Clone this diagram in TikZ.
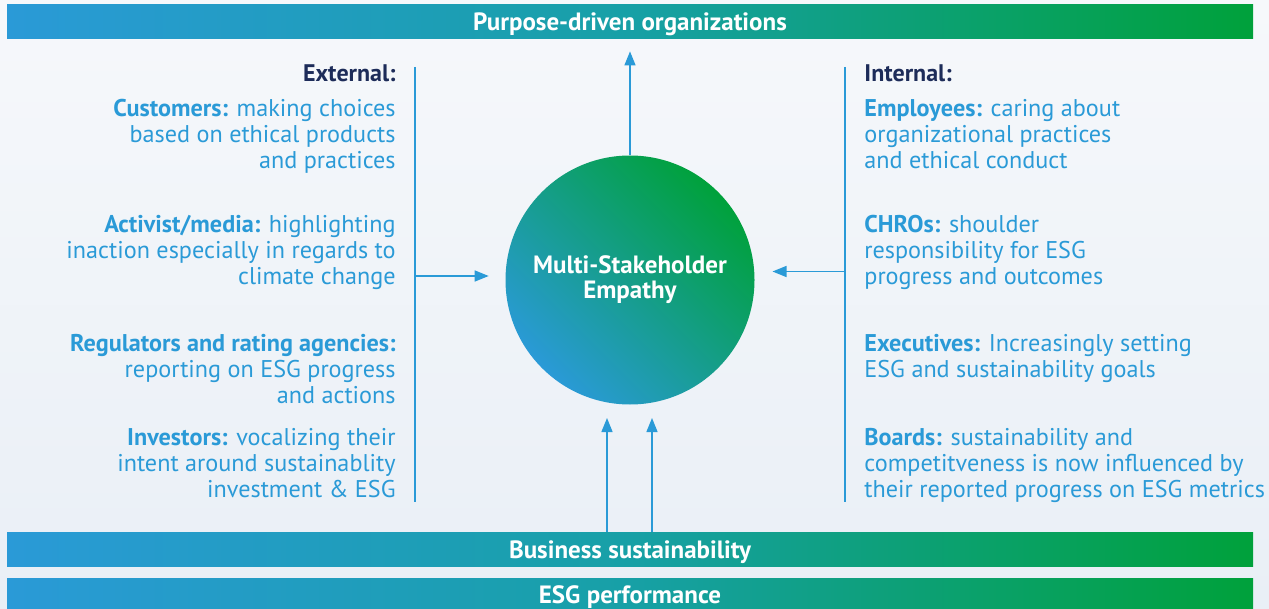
\documentclass[tikz,border=0pt]{standalone}
\usepackage{fontspec}
\setmainfont{PT Sans}
\usetikzlibrary{arrows.meta,positioning}
\definecolor{esgblue}{HTML}{2A9AD7}
\definecolor{esggreen}{HTML}{00A13B}
\definecolor{esgteal}{HTML}{17A0A6}
\definecolor{esgnavy}{HTML}{1D2C59}
\definecolor{skytop}{HTML}{F6F8FB}
\definecolor{skybot}{HTML}{E9EFF6}
\tikzset{
    bar/.style={minimum width=623pt, minimum height=17pt, inner sep=0pt,
        left color=esgblue, right color=esggreen, middle color=esgteal,
        text=white, text depth=0pt, font=\fontsize{12.5}{13}\selectfont\bfseries},
    link/.style={esgblue, line width=0.7pt, -{Triangle[length=7pt,width=5.5pt]}},
    side/.style={esgblue, line width=0.6pt},
    extnote/.style={anchor=base east, align=right, inner sep=0pt, text=esgblue,
        font=\fontsize{12.1}{13}\selectfont},
    intnote/.style={extnote, anchor=base west, align=left},
    heading/.style={inner sep=0pt, text=esgnavy, font=\fontsize{12}{13}\selectfont\bfseries},
}
\begin{document}
\begin{tikzpicture}[x=0.5pt, y=-0.5pt]
    %\draw[lightgray] (0, 0) grid[step=50] (1269, 609);
    \useasboundingbox (0, 0) rectangle (1269, 609);
    \shade[top color=skytop, bottom color=skybot] (0, 0) rectangle (1269, 609);

    \node[bar] (purpose) at (630, 22) {Purpose-driven organizations};
    \node[bar] (business) at (630, 549.5) {Business sustainability};
    \node[bar] (esg) at (630, 595) {ESG performance};

    \node[circle, minimum size=124.5pt, inner sep=0pt, top color=esggreen,
        bottom color=esgblue, shading angle=-45, text=white, align=center,
        font=\fontsize{12.5}{12.5}\selectfont\bfseries] (empathy) at (630, 280)
        {Multi-Stakeholder\\Empathy};

    % side rails
    \coordinate (ext top) at (415, 67);
    \coordinate (ext bot) at (415, 502);
    \coordinate (ext mid) at (415, 276);
    \coordinate (int top) at (845, 67);
    \coordinate (int bot) at (845, 502);
    \coordinate (int mid) at (845, 271.5);
    \draw[side] (ext top) -- (ext bot);
    \draw[side] (int top) -- (int bot);
    \draw[link, shorten >=8.2pt] (ext mid) -- (empathy.west |- ext mid);
    \draw[link, shorten >=8.8pt] (int mid) -- (empathy.east |- int mid);
    \draw[link, shorten >=6pt] (empathy) -- (purpose);

    \coordinate (feed a) at (607, 418);
    \coordinate (feed b) at (652, 418);
    \draw[link] (business.north -| feed a) -- (feed a);
    \draw[link] (business.north -| feed b) -- (feed b);

    \node[heading, anchor=base east] (external) at (396, 82) {External:};
    \node[extnote] (customers) at (396, 169)
        {\textbf{Customers:} making choices\\based on ethical products\\and practices};
    \node[extnote] (activist) at (396, 285)
        {\textbf{Activist/media:} highlighting\\inaction especially in regards to\\climate change};
    \node[extnote] (regulators) at (396, 403)
        {\textbf{Regulators and rating agencies:}\\reporting on ESG progress\\and actions};
    \node[extnote] (investors) at (396, 497)
        {\textbf{Investors:} vocalizing their\\intent around sustainablity\\investment \& ESG};

    \node[heading, anchor=base west] (internal) at (864, 82) {Internal:};
    \node[intnote] (employees) at (864, 169)
        {\textbf{Employees:} caring about\\organizational practices\\and ethical conduct};
    \node[intnote] (chros) at (864, 285)
        {\textbf{CHROs:} shoulder\\responsibility for ESG\\progress and outcomes};
    \node[intnote] (executives) at (864, 377)
        {\textbf{Executives:} Increasingly setting\\ESG and sustainability goals};
    \node[intnote] (boards) at (864, 497)
        {\textbf{Boards:} sustainability and\\competitveness is now influenced by\\their reported progress on ESG metrics};
\end{tikzpicture}
\end{document}
